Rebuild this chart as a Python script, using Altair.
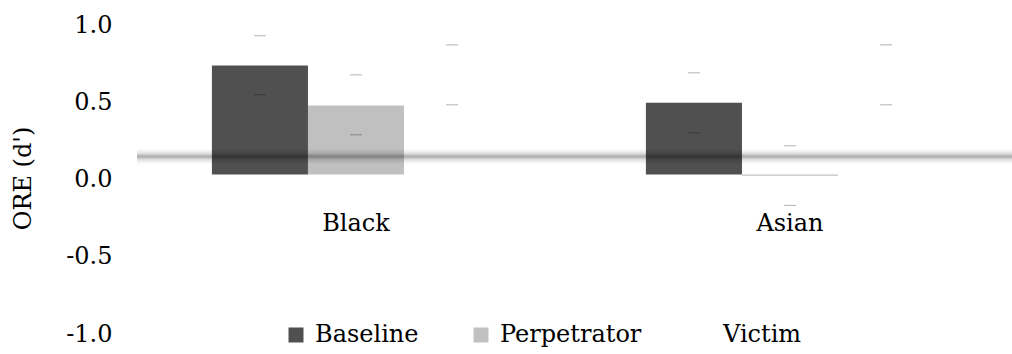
import altair as alt
import pandas as pd

categories = ["Black", "Asian"]
series = ["Baseline", "Perpetrator", "Victim"]
colors = ["#505050", "#c0c0c0", "#ffffff"]

mean_baseline = [0.705, 0.464]
mean_perpetrator = [0.447, -0.008]
mean_victim = [0.645, 0.645]

upper_baseline = [0.898, 0.658]
upper_perpetrator = [0.645, 0.186]
upper_victim = [0.839, 0.839]

lower_baseline = [0.516, 0.270]
lower_perpetrator = [0.257, -0.200]
lower_victim = [0.451, 0.451]

y_ticks = [-1.0, -0.5, 0.0, 0.5, 1.0]
shadow_line_value = [0.117]
category_label_value = -0.32

FONT = "DejaVu Serif"
FS = 24

means = {"Baseline": mean_baseline, "Perpetrator": mean_perpetrator, "Victim": mean_victim}
uppers = {"Baseline": upper_baseline, "Perpetrator": upper_perpetrator, "Victim": upper_victim}
lowers = {"Baseline": lower_baseline, "Perpetrator": lower_perpetrator, "Victim": lower_victim}

rows = []
for s in series:
    for i, c in enumerate(categories):
        rows.append({"category": c, "series": s, "value": means[s][i],
                     "hi": uppers[s][i], "lo": lowers[s][i]})
df = pd.DataFrame(rows)
cat_df = pd.DataFrame({"category": categories, "ypos": [category_label_value] * len(categories)})
line_df = pd.DataFrame({"v": shadow_line_value})

yscale = alt.Scale(domain=[-1, 1], nice=False, zero=False)
xenc = alt.X("category:N", sort=categories,
             scale=alt.Scale(domain=categories, paddingInner=0.336, paddingOuter=0.168),
             axis=None)
xoff = alt.XOffset("series:N", sort=series,
                   scale=alt.Scale(domain=series, paddingInner=0, paddingOuter=0))

bars = alt.Chart(df).mark_bar().encode(
    x=xenc,
    xOffset=xoff,
    y=alt.Y("value:Q", scale=yscale,
            axis=alt.Axis(values=y_ticks, title="ORE (d')",
                          labelExpr="(datum.value < 0 ? '-' : '') + format(abs(datum.value), '.1f')",
                          labelFont=FONT, labelFontSize=FS, labelColor="black",
                          labelPadding=27, labelOffset=5, domain=False, ticks=False,
                          tickSize=0, grid=False,
                          titleFont=FONT, titleFontSize=FS, titleFontWeight="normal",
                          titleColor="black", titleX=-116, titleY=158,
                          titleBaseline="middle", titleAlign="center", titleAngle=270)),
    y2=alt.datum(0),
    color=alt.Color("series:N", sort=series,
                    scale=alt.Scale(domain=series, range=colors),
                    legend=alt.Legend(orient="none", legendX=145, legendY=303,
                                      direction="horizontal", title=None,
                                      symbolType="square", symbolSize=225,
                                      symbolStrokeWidth=0, symbolOpacity=1,
                                      labelFont=FONT, labelFontSize=FS,
                                      labelColor="black", labelOffset=7,
                                      columnPadding=50, padding=0,
                                      labelLimit=300)),
)

caps = alt.Chart(df).transform_fold(["hi", "lo"], as_=["kind", "cap"]).mark_tick(
    orient="horizontal", size=12, thickness=1, color="black", opacity=0.3
).encode(
    x=xenc,
    xOffset=xoff,
    y=alt.Y("cap:Q", scale=yscale),
)

labels = alt.Chart(cat_df).mark_text(
    font=FONT, fontSize=FS, color="black", baseline="middle"
).encode(
    x=xenc,
    y=alt.Y("ypos:Q", scale=yscale),
    text="category:N",
)

blur_layers = []
for w, op in [(14, 0.04), (10, 0.06), (6, 0.09), (3, 0.13)]:
    blur_layers.append(
        alt.Chart(line_df).mark_rule(color="black", strokeWidth=w, opacity=op).encode(
            y=alt.Y("v:Q", scale=yscale),
            x=alt.value(-2),
            x2=alt.value(880),
        )
    )

chart = alt.layer(bars, *blur_layers, caps, labels).properties(
    width=868, height=309,
    padding={"left": 139, "top": 20, "right": 5, "bottom": 25},
    autosize=alt.AutoSizeParams(type="none"),
    background="white",
).configure_view(stroke=None)

chart.save("out.html", embed_options={"renderer": "svg", "actions": False})
